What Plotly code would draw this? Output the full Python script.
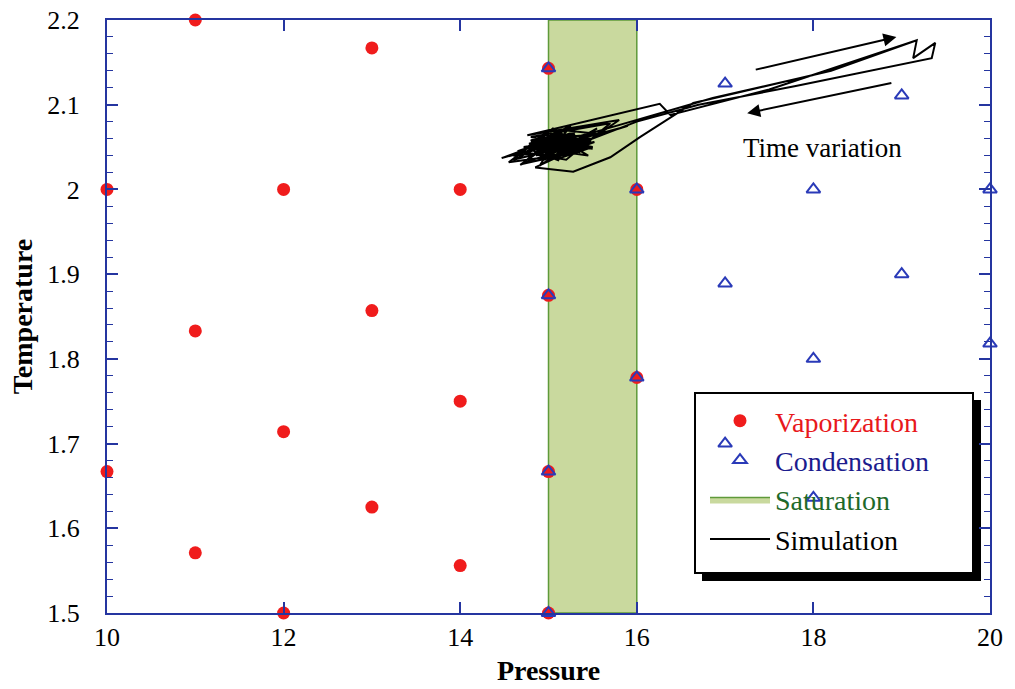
import plotly.graph_objects as go

# ---- data ----
vap_p = [10, 10, 11, 11, 11, 12, 12, 12, 13, 13, 13, 14, 14, 14, 15, 15, 15, 15, 16, 16]
vap_t = [2.0, 1.667, 2.2, 1.833, 1.571, 2.0, 1.714, 1.5, 2.167, 1.857, 1.625,
         2.0, 1.75, 1.556, 2.143, 1.875, 1.667, 1.5, 2.0, 1.778]

cond_p = [15, 15, 15, 15, 16, 16, 17, 17, 17, 18, 18, 18, 19, 19, 20, 20]
cond_t = [2.143, 1.875, 1.667, 1.5, 2.0, 1.778, 2.125, 1.889, 1.7, 2.0, 1.8, 1.636,
          2.111, 1.9, 2.0, 1.818]

sat_p = [15, 16, 16, 15, 15]
sat_t = [1.5, 1.5, 2.2, 2.2, 1.5]

sim_p = [15.05, 14.9, 15.3, 14.8, 15.4, 14.6, 15.2, 14.47, 15.0, 15.5, 14.85, 15.35,
         14.7, 15.15, 15.6, 14.95, 15.25, 14.75, 15.45, 15.1, 14.9, 15.55, 15.0, 15.3,
         14.65, 15.2, 15.7, 14.8, 15.4, 15.05, 14.55, 15.25, 15.8, 14.76, 16.26, 16.38,
         17.5, 19.17, 19.13, 19.38, 19.34, 17.8, 16.7, 16.0, 15.5, 15.0, 15.35, 14.9,
         15.2, 14.68, 15.1, 15.45, 14.85, 15.28, 15.7, 16.04, 16.64, 18.2, 19.17,
         18.0, 16.86, 16.1, 15.6, 15.1, 14.8, 15.3, 15.0, 14.6, 15.15, 15.4, 14.95,
         15.25, 15.05,
         14.82, 15.12, 14.92, 15.36, 15.02, 14.78, 15.22, 15.48, 14.88, 15.08, 15.32, 14.98,
         15.18, 14.84, 15.42, 15.06, 14.94, 15.28, 15.12, 14.86, 15.38, 15.02, 15.2, 14.9,
         15.5, 15.1, 14.8, 15.26, 15.0, 15.44, 14.96, 15.16, 14.86, 15.34, 15.08, 14.92,
         15.24, 15.04, 15.52, 14.98, 15.14, 14.82, 15.3, 15.06, 15.4, 14.9, 15.18, 15.02,
         15.62, 15.9, 15.3, 14.88, 15.12, 14.72, 15.2, 15.0, 15.36, 14.94, 15.1,
         14.84, 15.26, 14.96, 15.14, 15.44, 14.9, 15.06, 15.32, 14.8, 15.18, 15.0, 15.4,
         14.92, 15.22, 15.08, 14.86, 15.3, 15.12, 14.98, 15.46, 15.04, 14.88, 15.2, 15.1,
         14.94, 15.36, 15.02, 15.16, 14.82, 15.28, 15.06, 15.5, 14.9, 15.24, 15.0, 15.34,
         14.96, 15.12, 15.42, 14.86, 15.18, 15.04]
sim_t = [2.05, 2.045, 2.06, 2.04, 2.055, 2.035, 2.065, 2.037, 2.052, 2.06, 2.058, 2.045,
         2.03, 2.07, 2.065, 2.035, 2.075, 2.05, 2.04, 2.062, 2.028, 2.072, 2.04, 2.068,
         2.045, 2.035, 2.078, 2.062, 2.05, 2.072, 2.032, 2.042, 2.082, 2.064, 2.101, 2.088,
         2.118, 2.176, 2.155, 2.173, 2.155, 2.122, 2.1, 2.08, 2.06, 2.048, 2.058, 2.042,
         2.05, 2.029, 2.06, 2.055, 2.026, 2.021, 2.038, 2.062, 2.102, 2.14, 2.176,
         2.135, 2.108, 2.085, 2.07, 2.056, 2.048, 2.065, 2.044, 2.04, 2.058, 2.052, 2.06,
         2.047, 2.055,
         2.046, 2.058, 2.052, 2.044, 2.062, 2.054, 2.042, 2.056, 2.06, 2.04, 2.05, 2.064,
         2.044, 2.056, 2.052, 2.038, 2.066, 2.048, 2.054, 2.042, 2.06, 2.056, 2.046, 2.062,
         2.05, 2.036, 2.058, 2.064, 2.044, 2.054, 2.05, 2.066, 2.04, 2.058, 2.046, 2.06,
         2.052, 2.038, 2.056, 2.048, 2.062, 2.05, 2.044, 2.068, 2.052, 2.056, 2.042, 2.06,
         2.066, 2.075, 2.058, 2.048, 2.034, 2.05, 2.058, 2.046, 2.052, 2.056, 2.05,
         2.054, 2.047, 2.06, 2.043, 2.057, 2.051, 2.063, 2.045, 2.055, 2.049, 2.061, 2.047,
         2.058, 2.041, 2.065, 2.052, 2.046, 2.059, 2.05, 2.054, 2.043, 2.062, 2.049, 2.057,
         2.053, 2.045, 2.06, 2.042, 2.056, 2.05, 2.064, 2.048, 2.055, 2.044, 2.058, 2.051,
         2.046, 2.062, 2.053, 2.049, 2.057, 2.052]

x_ticks = [10, 12, 14, 16, 18, 20]

arrow_out = dict(x0=17.33, y0=2.141, x1=18.94, y1=2.180)
arrow_back = dict(x0=18.90, y0=2.126, x1=17.25, y1=2.090)
note_pos = (18.1, 2.049)

# ---- style ----
FONT = "Liberation Serif"
AXIS_BLUE = "#2535a0"
RED = "#f01c1c"
BLUE = "#2a3ab8"

fig = go.Figure()

fig.add_trace(go.Scatter(
    x=sat_p, y=sat_t, mode="lines", fill="toself",
    fillcolor="#c9d99e", line=dict(color="#5f9a3a", width=1.5),
    name='<span style="color:#1f6a2a">Saturation</span>', legendrank=3,
    hoverinfo="skip"))

fig.add_trace(go.Scatter(
    x=sim_p, y=sim_t, mode="lines", line=dict(color="black", width=2),
    name='<span style="color:black">Simulation</span>', legendrank=4))

fig.add_trace(go.Scatter(
    x=vap_p, y=vap_t, mode="markers",
    marker=dict(symbol="circle", size=13, color=RED),
    name='<span style="color:#e8181c">Vaporization</span>', legendrank=1,
    cliponaxis=False))

fig.add_trace(go.Scatter(
    x=cond_p, y=cond_t, mode="markers",
    marker=dict(symbol="triangle-up-open", size=12, color=BLUE, line=dict(width=2, color=BLUE)),
    name='<span style="color:#1c1c8e">Condensation</span>', legendrank=2,
    cliponaxis=False))

L, R, T, B = 107, 990, 20, 613
W, H = R - L, B - T
def px(xp): return (xp - L) / W
def py(yp): return (B - yp) / H

shapes = [
    dict(type="rect", xref="paper", yref="paper", layer="below",
         x0=px(702), x1=px(981), y0=py(400), y1=py(581), fillcolor="black", line=dict(width=0)),
    dict(type="rect", xref="paper", yref="paper", layer="below",
         x0=px(695), x1=px(973), y0=py(393), y1=py(573), fillcolor="white",
         line=dict(color="black", width=2)),
]

annotations = [
    dict(x=arrow_out["x1"], y=arrow_out["y1"], ax=arrow_out["x0"], ay=arrow_out["y0"],
         xref="x", yref="y", axref="x", ayref="y", showarrow=True, text="",
         arrowhead=2, arrowsize=1.3, arrowwidth=2, arrowcolor="black"),
    dict(x=arrow_back["x1"], y=arrow_back["y1"], ax=arrow_back["x0"], ay=arrow_back["y0"],
         xref="x", yref="y", axref="x", ayref="y", showarrow=True, text="",
         arrowhead=2, arrowsize=1.3, arrowwidth=2, arrowcolor="black"),
    dict(x=note_pos[0], y=note_pos[1], xref="x", yref="y", text="Time variation",
         showarrow=False, font=dict(family=FONT, size=27, color="black")),
]

fig.update_layout(
    width=1015, height=689,
    margin=dict(l=L, r=1015 - R, t=T, b=689 - B),
    paper_bgcolor="white", plot_bgcolor="white",
    font=dict(family=FONT, color="black"),
    shapes=shapes, annotations=annotations,
    showlegend=True,
    legend=dict(x=px(705), y=py(396), xanchor="left", yanchor="top",
                bgcolor="rgba(0,0,0,0)", borderwidth=0, itemwidth=60,
                font=dict(family=FONT, size=28), traceorder="normal"),
)

fig.update_xaxes(
    range=[10, 20], tickvals=x_ticks, ticks="inside", ticklen=11, tickwidth=1.5,
    tickcolor=AXIS_BLUE, showline=True, linecolor=AXIS_BLUE, linewidth=2, mirror="ticks",
    showgrid=False, zeroline=False, tickfont=dict(family=FONT, size=26),
    ticklabelstandoff=0, automargin=False,
    title=dict(text="<b>Pressure</b>", font=dict(family=FONT, size=28), standoff=9),
)
fig.update_yaxes(
    range=[1.5, 2.2], tick0=1.5, dtick=0.1, ticks="inside", ticklen=11, tickwidth=1.5,
    tickcolor=AXIS_BLUE, showline=True, linecolor=AXIS_BLUE, linewidth=2, mirror="ticks",
    showgrid=False, zeroline=False, tickfont=dict(family=FONT, size=26),
    ticklabelstandoff=20, automargin=False,
    minor=dict(ticks="inside", dtick=0.02, ticklen=6, tickcolor=AXIS_BLUE, tickwidth=1.2, showgrid=False),
    title=dict(text="<b>Temperature</b>", font=dict(family=FONT, size=28), standoff=6),
)

fig.write_html("out.html")
